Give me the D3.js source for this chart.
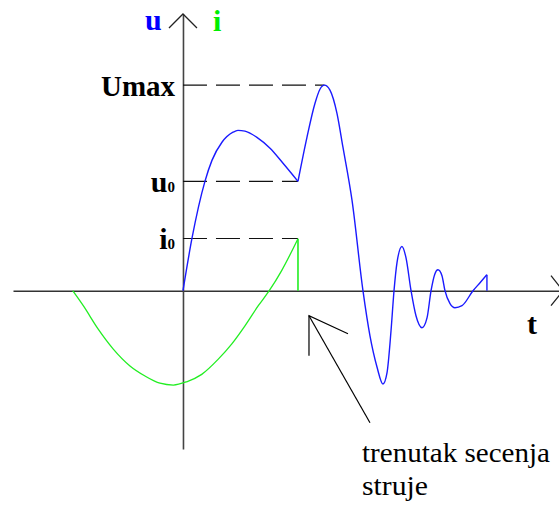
<!DOCTYPE html>
<html>
<head>
<meta charset="utf-8">
<script src="https://cdn.jsdelivr.net/npm/d3@7"></script>
<style>
  body { margin: 0; background: #fff; }
</style>
</head>
<body>
<script>
// Napon u(t) - blue curve, before and after the cut moment (t = 1)
var uBefore = [
    [0, 0], [0.078, 0.254], [0.191, 0.532], [0.252, 0.634], [0.339, 0.722],
    [0.435, 0.771], [0.478, 0.780], [0.539, 0.776], [0.643, 0.746],
    [0.757, 0.693], [0.870, 0.620], [1.0, 0.532]
];
var uAfter = [
    [1.0, 0.532], [1.078, 0.746], [1.148, 0.912], [1.191, 0.980], [1.230, 1.0],
    [1.278, 0.976], [1.339, 0.863], [1.391, 0.698], [1.470, 0.439], [1.565, 0],
    [1.626, -0.220], [1.687, -0.371], [1.739, -0.454], [1.774, -0.400], [1.809, -0.195],
    [1.835, 0], [1.861, 0.137], [1.904, 0.215], [1.939, 0.161], [1.983, 0],
    [2.026, -0.122], [2.078, -0.180], [2.122, -0.132], [2.157, 0],
    [2.191, 0.083], [2.217, 0.102], [2.252, 0.073], [2.278, 0], [2.322, -0.063],
    [2.365, -0.083], [2.426, -0.073], [2.522, 0], [2.583, 0.039], [2.643, 0.078]
];
// Struja i(t) - green curve
var iCurve = [
    [-0.959, 0], [-0.867, -0.073], [-0.737, -0.187], [-0.606, -0.284], [-0.461, -0.366],
    [-0.330, -0.415], [-0.200, -0.450], [-0.084, -0.459], [0.032, -0.443],
    [0.163, -0.407], [0.307, -0.333], [0.423, -0.260], [0.539, -0.171],
    [0.655, -0.073], [0.750, 0], [0.858, 0.098], [1.0, 0.253]
];

var tCut = 1.0;
var tPeak = 1.230;
var tEnd = 2.643;
var levels = [
    {name: "Umax", sub: "", value: 1.0, tTo: tPeak},
    {name: "u", sub: "0", value: 0.532, tTo: tCut},
    {name: "i", sub: "0", value: 0.254, tTo: tCut}
];

var width = 559, height = 506;
var serif = "'Liberation Serif', 'DejaVu Serif', 'Times New Roman', serif";

var x = d3.scaleLinear().domain([-1.478, 3.287]).range([13, 561]);
var y = d3.scaleLinear().domain([-0.77, 1.346]).range([449, 14]);

var svg = d3.select("body").append("svg")
    .attr("width", width).attr("height", height)
    .style("font-family", serif);

// Axes (domain lines only)
var xAxis = d3.axisBottom(x).tickValues([]).tickSizeOuter(0);
var yAxis = d3.axisLeft(y).tickValues([]).tickSizeOuter(0);

svg.append("g").attr("transform", "translate(0," + y(0) + ")").call(xAxis)
    .select(".domain").attr("stroke", "#333").attr("stroke-width", 1.6);
svg.append("g").attr("transform", "translate(" + x(0) + ",0)").call(yAxis)
    .select(".domain").attr("stroke", "#444").attr("stroke-width", 1.6);

// Axis arrow heads
var yTop = y.range()[1], xRight = x.range()[1] + 2;
svg.append("path")
    .attr("d", "M" + (x(0) - 14) + "," + (yTop + 14) + "L" + x(0) + "," + yTop + "L" + (x(0) + 14) + "," + (yTop + 14))
    .attr("fill", "none").attr("stroke", "#222").attr("stroke-width", 1.3);
svg.append("path")
    .attr("d", "M" + (xRight - 12) + "," + (y(0) - 15) + "L" + xRight + "," + y(0) + "L" + (xRight - 12) + "," + (y(0) + 15))
    .attr("fill", "none").attr("stroke", "#222").attr("stroke-width", 1.3);

// Dashed level lines
svg.selectAll(".level").data(levels).enter().append("line")
    .attr("x1", x(0)).attr("x2", function(d){ return x(d.tTo); })
    .attr("y1", function(d){ return y(d.value); })
    .attr("y2", function(d){ return y(d.value); })
    .attr("stroke", "#111").attr("stroke-width", 1.1)
    .attr("stroke-dasharray", "24,9");

// Level labels
var lbl = svg.selectAll(".lbl").data(levels).enter().append("text")
    .attr("x", x(0) - 8)
    .attr("y", function(d){ return y(d.value) + 11; })
    .attr("text-anchor", "end")
    .attr("font-family", serif)
    .attr("font-weight", "bold")
    .attr("font-size", 30)
    .attr("fill", "#000");
lbl.append("tspan").text(function(d){ return d.name; })
    .each(function(d){ if (d.name === "Umax") d3.select(this).attr("textLength", 74).attr("lengthAdjust", "spacingAndGlyphs"); });
lbl.append("tspan").attr("font-size", 15).text(function(d){ return d.sub; });

var line = d3.line()
    .x(function(d){ return x(d[0]); })
    .y(function(d){ return y(d[1]); })
    .curve(d3.curveMonotoneX);

// Current (green)
svg.append("path").attr("d", line(iCurve))
    .attr("fill", "none").attr("stroke", "#22ee22").attr("stroke-width", 1.3);
svg.append("line")
    .attr("x1", x(tCut)).attr("x2", x(tCut))
    .attr("y1", y(iCurve[iCurve.length - 1][1])).attr("y2", y(0))
    .attr("stroke", "#22ee22").attr("stroke-width", 1.6);

// Voltage (blue)
[uBefore, uAfter].forEach(function(seg){
    svg.append("path").attr("d", line(seg))
        .attr("fill", "none").attr("stroke", "#1a1aff").attr("stroke-width", 1.4);
});
svg.append("line")
    .attr("x1", x(tEnd)).attr("x2", x(tEnd))
    .attr("y1", y(uAfter[uAfter.length - 1][1])).attr("y2", y(0))
    .attr("stroke", "#1a1aff").attr("stroke-width", 1.4);

// Axis titles
svg.append("text").attr("x", x(0) - 38).attr("y", 30).attr("font-family", serif)
    .attr("font-weight", "bold").attr("font-size", 30).attr("fill", "#0000ff").text("u");
svg.append("text").attr("x", x(0) + 30).attr("y", 31).attr("font-family", serif)
    .attr("font-weight", "bold").attr("font-size", 30).attr("fill", "#00ee00").text("i");
svg.append("text").attr("x", 527).attr("y", y(0) + 43).attr("font-family", serif)
    .attr("font-weight", "bold").attr("font-size", 30).attr("fill", "#000").text("t");

// Annotation arrow for the cut moment
var tipX = x(tCut) + 11, tipY = y(0) + 25;
svg.append("path")
    .attr("d", "M" + tipX + "," + (tipY + 40) + "L" + tipX + "," + tipY + "L" + (tipX + 39) + "," + (tipY + 18))
    .attr("fill", "none").attr("stroke", "#000").attr("stroke-width", 1.2);
svg.append("line")
    .attr("x1", tipX).attr("y1", tipY).attr("x2", tipX + 61).attr("y2", tipY + 107)
    .attr("stroke", "#000").attr("stroke-width", 1.2);

svg.append("text").attr("x", 362).attr("y", 462).attr("font-family", serif)
    .attr("font-size", 28).attr("fill", "#000")
    .attr("textLength", 188).attr("lengthAdjust", "spacingAndGlyphs")
    .text("trenutak secenja");
svg.append("text").attr("x", 362).attr("y", 495).attr("font-family", serif)
    .attr("font-size", 28).attr("fill", "#000")
    .attr("textLength", 66).attr("lengthAdjust", "spacingAndGlyphs")
    .text("struje");
</script>
</body>
</html>
